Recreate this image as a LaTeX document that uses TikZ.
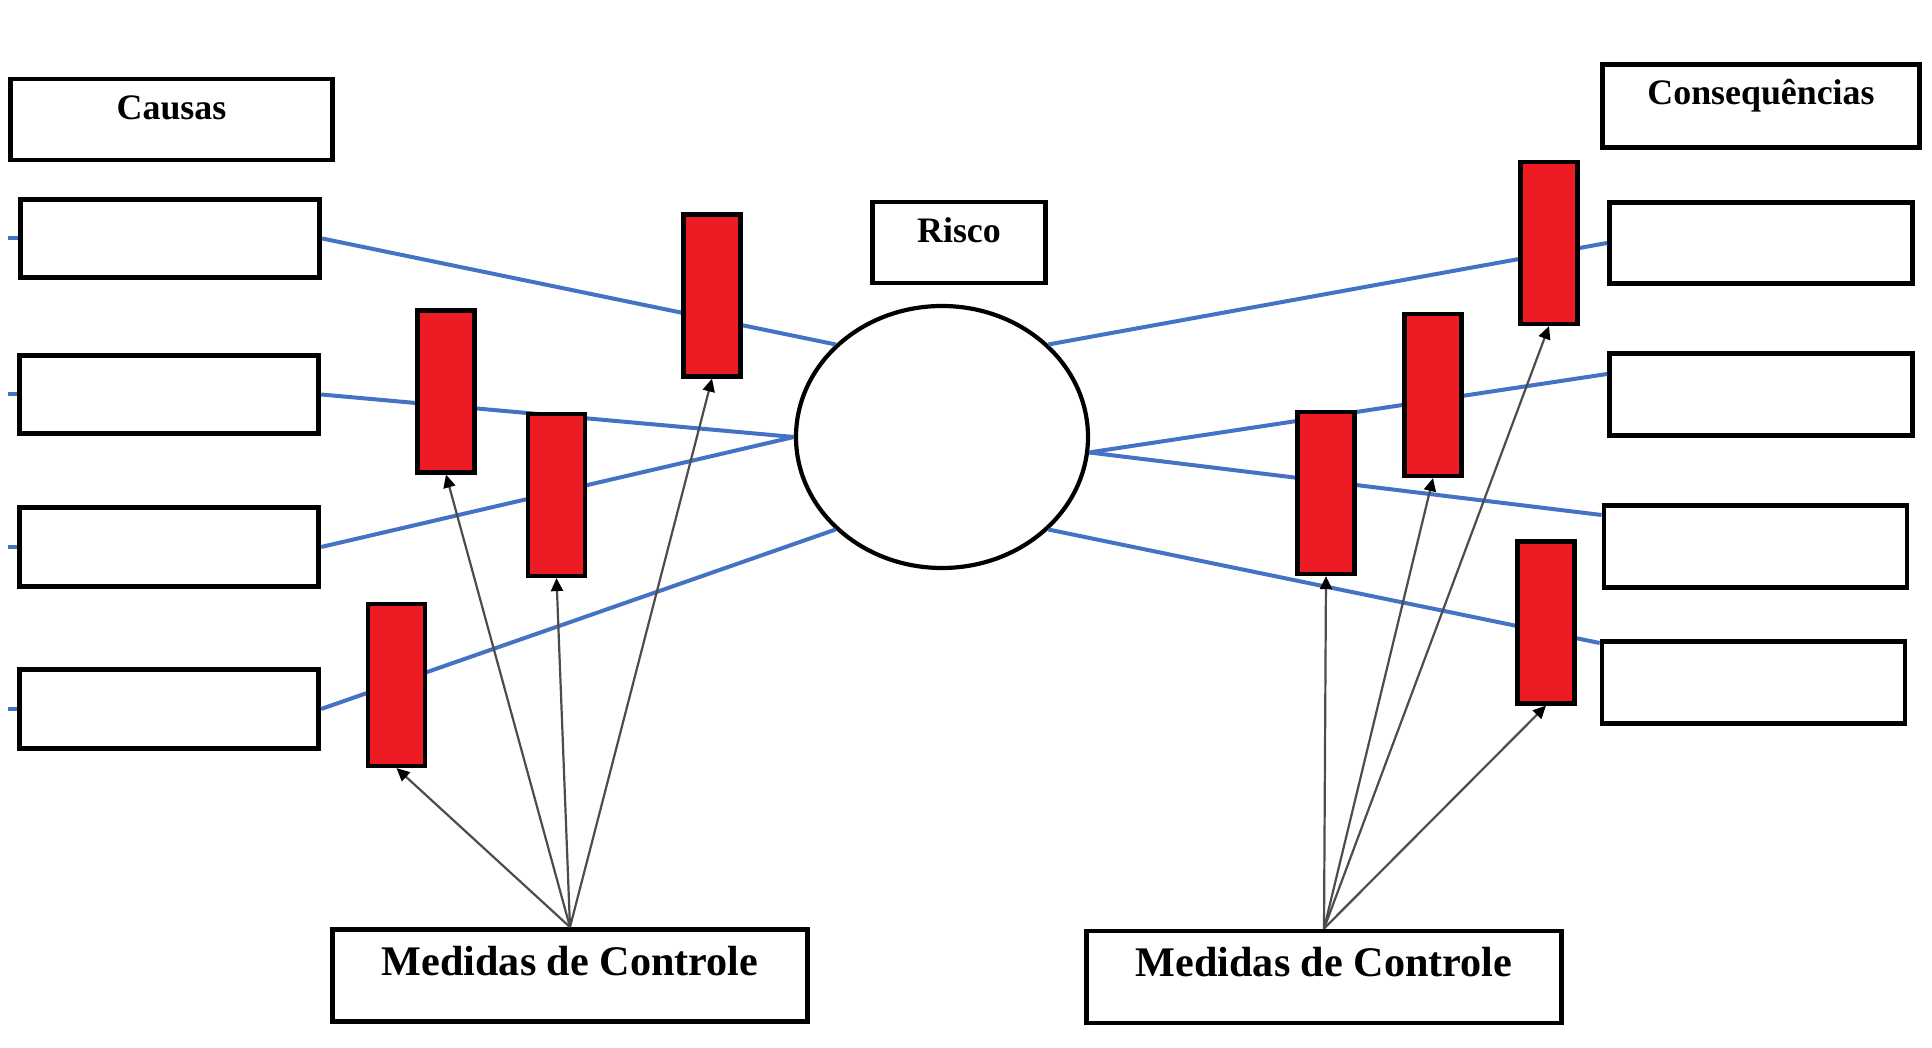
\documentclass[tikz,border=0pt]{standalone}
\usepackage{fontspec}
\setmainfont{Liberation Serif}
\usetikzlibrary{arrows.meta,shapes.geometric}

\definecolor{linkblue}{RGB}{68,114,196}
\definecolor{barred}{RGB}{237,28,36}

\begin{document}
\begin{tikzpicture}[x=0.1mm,y=-0.1mm,
    box/.style={draw,line width=0.48mm,inner sep=0pt,minimum width=29.95mm,minimum height=7.85mm},
    outbox/.style={box,minimum width=30.3mm,minimum height=8.15mm},
    title/.style={draw,line width=0.48mm,inner sep=0pt,font=\fontsize{10.2}{12}\selectfont\bfseries,text height=4.05mm,text depth=4.05mm},
    ctrlbox/.style={title,font=\fontsize{12}{14}\selectfont\bfseries,minimum width=47.55mm,text height=4.6mm,text depth=4.6mm},
    barrier/.style={draw,fill=barred,line width=0.42mm,inner sep=0pt,minimum width=5.7mm,minimum height=16.2mm},
    link/.style={linkblue,line width=0.4mm},
    ctrl/.style={black!70,line width=0.22mm,-{Triangle[length=1.3mm,width=1.2mm,black]}}]
    \useasboundingbox (0,0) rectangle (1932,1048);

    % titulos
    \node[title,minimum width=32.25mm] (causas) at (171.5,119.5) {Causas};
    \node[title,minimum width=17.35mm] (risco) at (959,242.5) {Risco};
    \node[title,minimum width=31.75mm,text depth=4.3mm] (consequencias) at (1761,106) {Consequências};

    % causas e consequencias
    \node[box] (c1) at (170,238.5) {};
    \node[box] (c2) at (169,394.5) {};
    \node[box] (c3) at (169,547) {};
    \node[box] (c4) at (169,709) {};
    \node[outbox] (k1) at (1761,243) {};
    \node[outbox] (k2) at (1761,394.5) {};
    \node[outbox] (k3) at (1755.5,546.5) {};
    \node[outbox] (k4) at (1753.5,682.5) {};

    % evento
    \node[ellipse,draw,line width=0.42mm,inner sep=0pt,minimum width=29.2mm,minimum height=26.2mm] (evento) at (942,437) {};

    % ligacoes
    \foreach \i/\y in {1/238.5,2/394.5,3/547,4/709}
        \draw[link] (8,\y) -- (c\i.west);
    \draw[link] (c1.east) -- (evento.139.5);
    \draw[link] (c2.east) -- (evento.west);
    \draw[link] (c3.east) -- (evento.west);
    \draw[link] (c4.east) -- (evento.221.5);
    \draw[link] (evento.41) -- (k1.west);
    \draw[link] (evento.354) -- ([yshift=2.05mm]k2.west);
    \draw[link] (evento.354) -- ([yshift=3.15mm]k3.west);
    \draw[link] (evento.319) -- ([yshift=3.95mm]k4.west);

    % barreiras
    \node[barrier] (b1) at (712,295.5) {};
    \node[barrier] (b2) at (446,391.5) {};
    \node[barrier] (b3) at (556.5,495) {};
    \node[barrier] (b4) at (396.5,685) {};
    \node[barrier] (d1) at (1549,243) {};
    \node[barrier] (d2) at (1433,395) {};
    \node[barrier] (d3) at (1326,493) {};
    \node[barrier] (d4) at (1546,622.5) {};

    % medidas de controle
    \node[ctrlbox] (med1) at (570,975.5) {Medidas de Controle};
    \node[ctrlbox] (med2) at (1324,977) {Medidas de Controle};
    \foreach \b in {b1,b2,b3,b4}
        \draw[ctrl] (med1.north) -- (\b.south);
    \foreach \b in {d1,d2,d3,d4}
        \draw[ctrl] (med2.north) -- (\b.south);
\end{tikzpicture}
\end{document}
